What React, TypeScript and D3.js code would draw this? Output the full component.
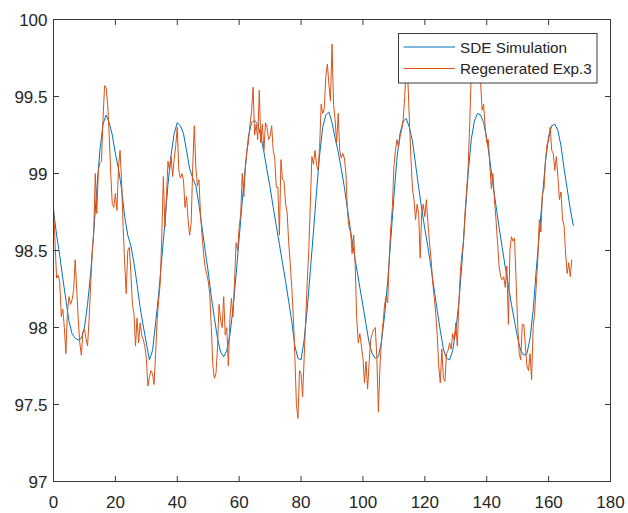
import React from "react";
import * as d3 from "d3";

// ---------- data ----------
const sdeStep = 1; // hours between SDE samples
const sdeValues: number[] = [
  98.76, 98.60, 98.47, 98.32, 98.18, 98.04, 97.96, 97.93, 97.92, 97.93,
  98.00, 98.15, 98.35, 98.62, 98.90, 99.15, 99.32, 99.38, 99.33, 99.25,
  99.13, 99.03, 98.90, 98.72, 98.60, 98.53, 98.42, 98.28, 98.13, 98.01,
  97.90, 97.79, 97.85, 98.03, 98.22, 98.45, 98.68, 98.93, 99.12, 99.26,
  99.33, 99.31, 99.26, 99.15, 99.03, 98.97, 98.92, 98.80, 98.65, 98.50,
  98.36, 98.20, 98.06, 97.93, 97.84, 97.81, 97.85, 97.95, 98.12, 98.34,
  98.58, 98.82, 99.04, 99.24, 99.33, 99.345, 99.32, 99.24, 99.14, 99.02,
  98.91, 98.78, 98.66, 98.54, 98.42, 98.30, 98.17, 98.04, 97.88, 97.80,
  97.79, 97.92, 98.12, 98.37, 98.62, 98.88, 99.12, 99.30, 99.38, 99.40,
  99.33, 99.23, 99.14, 99.03, 98.91, 98.77, 98.63, 98.50, 98.38, 98.26,
  98.14, 98.02, 97.90, 97.83, 97.80, 97.81, 97.91, 98.08, 98.30, 98.57,
  98.85, 99.10, 99.26, 99.34, 99.356, 99.30, 99.21, 99.06, 98.91, 98.77,
  98.64, 98.52, 98.39, 98.25, 98.11, 97.98, 97.86, 97.80, 97.79, 97.85,
  97.98, 98.16, 98.42, 98.72, 99.00, 99.22, 99.34, 99.39, 99.38, 99.33,
  99.23, 99.09, 98.93, 98.79, 98.65, 98.52, 98.39, 98.27, 98.15, 98.04,
  97.93, 97.85, 97.82, 97.83, 97.93, 98.11, 98.37, 98.61, 98.85, 99.08,
  99.24, 99.31, 99.32, 99.28, 99.18, 99.03, 98.90, 98.77, 98.66,
];

const expStep = 0.5; // hours between regenerated experiment samples
const expValues: number[] = [
  98.79, 98.55, 98.32, 98.34, 98.30, 98.07, 98.12, 98.00, 97.83, 98.10,
  98.20, 98.15, 98.18, 98.24, 98.44, 98.25, 98.05, 97.90, 97.82, 97.97,
  97.99, 97.93, 97.88, 98.05, 98.27, 98.48, 98.62, 99.00, 98.74, 99.02,
  99.07, 99.08, 99.35, 99.57, 99.56, 99.45, 99.25, 99.00, 98.80, 98.78,
  98.87, 98.76, 99.04, 99.15, 98.96, 98.65, 98.42, 98.22, 98.50, 98.52,
  98.35, 98.15, 98.09, 97.88, 98.06, 97.90, 98.03, 97.95, 97.92, 97.88,
  97.80, 97.62, 97.68, 97.72, 97.70, 97.63, 97.83, 98.05, 98.18, 98.29,
  98.60, 98.98, 98.65, 98.85, 99.08, 99.02, 99.11, 98.98, 99.09, 99.18,
  99.30, 99.02, 98.97, 99.00, 98.96, 98.78, 98.85, 98.70, 98.60, 98.68,
  99.05, 99.31, 99.04, 98.92, 98.96, 98.74, 98.60, 98.48, 98.39, 98.35,
  98.30, 98.22, 98.00, 97.75, 97.67, 97.70, 97.87, 98.15, 98.05, 98.00,
  98.20, 97.95, 98.00, 97.75, 98.05, 98.19, 98.07, 98.30, 98.55, 98.50,
  98.65, 98.74, 99.00, 98.85, 99.04, 99.15, 99.20, 99.32, 99.40, 99.56,
  99.25, 99.32, 99.22, 99.54, 99.20, 99.32, 99.15, 99.33, 99.30, 99.22,
  99.24, 99.31, 99.15, 99.10, 98.91, 98.91, 98.60, 99.09, 98.96, 98.95,
  98.80, 98.75, 98.55, 98.42, 98.26, 98.07, 97.81, 97.50, 97.41, 97.72,
  97.70, 97.55, 97.80, 98.05, 98.30, 98.50, 98.80, 99.11, 99.06, 99.15,
  99.06, 99.02, 99.17, 99.45, 99.39, 99.42, 99.63, 99.71, 99.58, 99.47,
  99.84, 99.45, 99.35, 99.20, 99.39, 99.15, 99.10, 99.13, 99.10, 99.00,
  98.75, 98.65, 98.62, 98.48, 98.60, 98.40, 98.05, 97.90, 97.96, 97.88,
  97.80, 97.64, 97.78, 97.60, 97.77, 97.92, 97.96, 97.99, 98.00, 97.80,
  97.45, 97.75, 97.92, 98.03, 98.15, 98.20, 98.16, 98.45, 98.65, 98.78,
  99.04, 99.15, 99.22, 99.17, 99.24, 99.28, 99.35, 99.50, 99.70, 99.62,
  99.35, 99.10, 98.90, 98.83, 98.70, 98.80, 98.74, 98.45, 98.75, 98.80,
  98.72, 98.83, 98.68, 98.55, 98.45, 98.30, 98.20, 98.10, 97.95, 97.75,
  97.64, 97.86, 97.67, 97.65, 97.83, 97.85, 97.90, 97.86, 97.96, 97.92,
  98.03, 97.88, 98.16, 98.37, 98.48, 98.55, 98.75, 98.89, 99.04, 99.32,
  99.65, 99.75, 99.70, 99.78, 99.65, 99.70, 99.60, 99.41, 99.45, 99.30,
  99.20, 99.22, 99.05, 98.90, 99.00, 98.83, 98.70, 98.55, 98.40, 98.33,
  98.31, 98.33, 98.26, 98.40, 98.02, 98.50, 98.59, 98.56, 98.58, 98.30,
  98.02, 97.83, 97.79, 98.02, 98.02, 97.88, 97.75, 97.72, 97.83, 97.66,
  98.00, 98.10, 98.27, 98.44, 98.70, 98.62, 98.87, 98.90, 99.09, 99.19,
  99.21, 99.30, 99.15, 99.13, 99.02, 99.11, 98.98, 98.83, 98.88, 98.70,
  98.66, 98.48, 98.35, 98.42, 98.33, 98.44,
];

const xTicks: number[] = [0, 20, 40, 60, 80, 100, 120, 140, 160, 180];
const yTicks: number[] = [97, 97.5, 98, 98.5, 99, 99.5, 100];
const yTickLabels: string[] = ["97", "97.5", "98", "98.5", "99", "99.5", "100"];
const seriesNames: string[] = ["SDE Simulation", "Regenerated Exp.3"];
const seriesColors: string[] = ["#0072BD", "#D95319"];

// ---------- layout ----------
const W = 628;
const H = 513;
const L = 53.5;
const R = 610.5;
const T = 19.5;
const B = 481.5;
const TICK = 5.5;
const AXIS_COLOR = "#3a3a3a";
const TEXT_COLOR = "#262626";
const FONT = "'Liberation Sans', Arial, Helvetica, sans-serif";

export default function App() {
  const x = d3.scaleLinear().domain([0, 180]).range([L, R]);
  const y = d3.scaleLinear().domain([97, 100]).range([B, T]);

  const sde = sdeValues.map((v, i) => [i * sdeStep, v] as [number, number]);
  const exp = expValues.map((v, i) => [i * expStep, v] as [number, number]);

  const line = d3
    .line<[number, number]>()
    .x((d) => x(d[0]))
    .y((d) => y(d[1]));

  const legX = 398.5;
  const legY = 33.5;
  const legW = 198.5;
  const legH = 49.5;
  const rows = [47, 68.5];

  return (
    <svg
      width={W}
      height={H}
      style={{ position: "absolute", left: 0, top: 0, background: "#fff" }}
      fontFamily={FONT}
    >
      <rect x={0} y={0} width={W} height={H} fill="#fff" />
      <defs>
        <clipPath id="plotClip">
          <rect x={L} y={T} width={R - L} height={B - T} />
        </clipPath>
      </defs>

      {/* series */}
      <g clipPath="url(#plotClip)" fill="none" strokeLinejoin="round">
        <path d={line(sde) || ""} stroke={seriesColors[0]} strokeWidth={1} />
        <path d={line(exp) || ""} stroke={seriesColors[1]} strokeWidth={1} />
      </g>

      {/* axes box */}
      <rect
        x={L}
        y={T}
        width={R - L}
        height={B - T}
        fill="none"
        stroke={AXIS_COLOR}
        strokeWidth={1}
      />

      {/* x ticks */}
      {xTicks.map((t) => (
        <g key={"x" + t}>
          <line x1={x(t)} x2={x(t)} y1={B} y2={B - TICK} stroke={AXIS_COLOR} />
          <line x1={x(t)} x2={x(t)} y1={T} y2={T + TICK} stroke={AXIS_COLOR} />
          <text
            x={x(t)}
            y={507.5}
            textAnchor="middle"
            fontSize={17}
            fill={TEXT_COLOR}
          >
            {t}
          </text>
        </g>
      ))}

      {/* y ticks */}
      {yTicks.map((t, i) => (
        <g key={"y" + t}>
          <line x1={L} x2={L + TICK} y1={y(t)} y2={y(t)} stroke={AXIS_COLOR} />
          <line x1={R} x2={R - TICK} y1={y(t)} y2={y(t)} stroke={AXIS_COLOR} />
          <text
            x={47.5}
            y={y(t) + 6.2}
            textAnchor="end"
            fontSize={17}
            fill={TEXT_COLOR}
          >
            {yTickLabels[i]}
          </text>
        </g>
      ))}

      {/* legend */}
      <rect
        x={legX}
        y={legY}
        width={legW}
        height={legH}
        fill="#fff"
        stroke={AXIS_COLOR}
        strokeWidth={1}
      />
      {seriesNames.map((name, i) => (
        <g key={name}>
          <line
            x1={403.5}
            x2={455}
            y1={rows[i]}
            y2={rows[i]}
            stroke={seriesColors[i]}
            strokeWidth={1}
          />
          <text
            x={460}
            y={rows[i] + 5.6}
            fontSize={15.3}
            fill={TEXT_COLOR}
          >
            {name}
          </text>
        </g>
      ))}
    </svg>
  );
}
